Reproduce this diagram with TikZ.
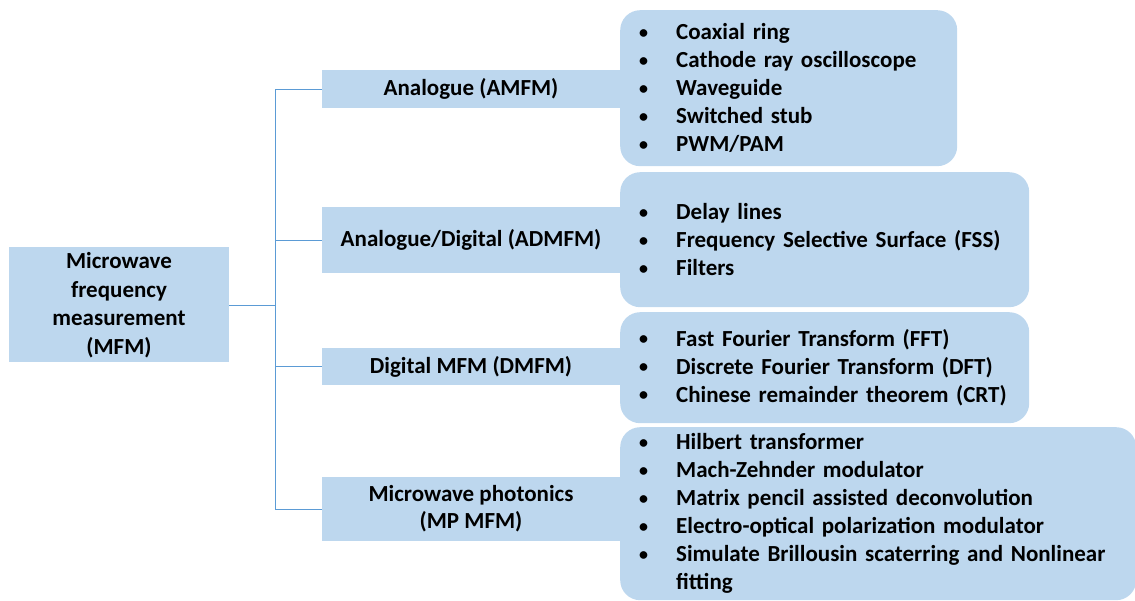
\documentclass[tikz,border=0pt]{standalone}
\usepackage{fontspec}
\setmainfont{Carlito}
\definecolor{boxblue}{RGB}{189,215,238}
\definecolor{linkblue}{RGB}{91,155,213}
\newcommand{\itm}[1]{\makebox[38pt][l]{\hspace*{1pt}\raisebox{1.6pt}{\fontsize{18}{18}\selectfont•}}#1}
\begin{document}
\begin{tikzpicture}[x=1pt,y=-1pt,
  txt/.style={font=\fontsize{23}{28}\selectfont\bfseries},
  rootbox/.style={txt,fill=boxblue,draw=none,inner sep=0pt,align=center,
    minimum width=220pt,minimum height=115pt,font=\fontsize{23}{28.5}\selectfont\bfseries},
  catbox/.style={txt,fill=boxblue,draw=none,inner sep=0pt,align=center,minimum width=298pt},
  listbox/.style={txt,fill=boxblue,draw=none,rounded corners=20pt,inner xsep=18pt,inner ysep=0pt,
    align=left,anchor=north west},
  conn/.style={draw=linkblue,line width=0.9pt}]
\useasboundingbox (0,0) rectangle (1135,601);

% root
\node[rootbox] (root) at (119,305) {Microwave\\frequency\\measurement\\(MFM)};

% categories
\node[catbox,minimum height=38pt] (a1) at (471,89) {Analogue (AMFM)};
\node[catbox,minimum height=66pt] (a2) at (471,240) {Analogue/Digital (ADMFM)};
\node[catbox,minimum height=37pt] (a3) at (471,366.5) {Digital MFM (DMFM)};
\node[catbox,minimum height=64pt,font=\fontsize{23}{27}\selectfont\bfseries] (a4) at (471,509) {Microwave photonics\\(MP MFM)};

% method lists
\node[listbox,text width=301pt,minimum height=156pt] (l1) at (620,10)
  {\itm{Coaxial ring}\\\itm{Cathode ray oscilloscope}\\\itm{Waveguide}\\\itm{Switched stub}\\\itm{PWM/PAM}};
\node[listbox,text width=373pt,minimum height=135pt] (l2) at (620,172)
  {\itm{Delay lines}\\\itm{Frequency Selective Surface (FSS)}\\\itm{Filters}};
\node[listbox,text width=373pt,minimum height=111pt] (l3) at (620,312)
  {\itm{Fast Fourier Transform (FFT)}\\\itm{Discrete Fourier Transform (DFT)}\\\itm{Chinese remainder theorem (CRT)}};
\node[listbox,text width=480pt,minimum height=173pt] (l4) at (620,427)
  {\itm{Hilbert transformer}\\\itm{Mach-Zehnder modulator}\\\itm{Matrix pencil assisted deconvolution}\\\itm{Electro-optical polarization modulator}\\\itm{Simulate Brillousin scaterring and Nonlinear}\\\hspace*{38pt}fitting};

% tree connectors
\coordinate (tx) at (275,0);
\draw[conn] (a1.west) -- (a1.west -| tx) -- (a4.west -| tx) -- (a4.west);
\draw[conn] (a2.west) -- (a2.west -| tx);
\draw[conn] (a3.west) -- (a3.west -| tx);
\draw[conn] (root.east) -- (root.east -| tx);
\end{tikzpicture}
\end{document}
